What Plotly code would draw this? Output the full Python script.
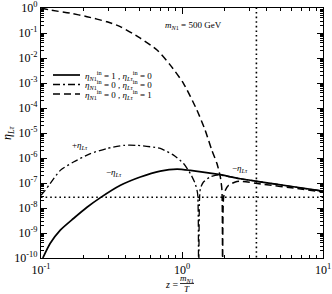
import plotly.graph_objects as go

# ---- data ----
z_solid = [0.103, 0.116, 0.137, 0.170, 0.212, 0.264, 0.366, 0.506, 0.701, 0.923, 1.146, 1.82, 2.2, 2.59, 3.40, 5.86, 10.0]
eta_solid = [1.0e-10, 3.8e-10, 1.3e-9, 3.8e-9, 1.07e-8, 2.6e-8, 8.1e-8, 1.74e-7, 3.0e-7, 3.6e-7, 3.2e-7, 2.2e-7, 1.78e-7, 1.48e-7, 1.17e-7, 7.4e-8, 4.7e-8]

z_dashdot = [0.1, 0.107, 0.116, 0.137, 0.170, 0.224, 0.294, 0.385, 0.480, 0.701, 0.871, 1.026, 1.146, 1.24, 1.29, 1.31,
             1.33, 1.35, 1.42, 1.585, 1.72, 1.82, 2.2, 2.59, 3.40, 5.86, 10.0]
eta_dashdot = [3.2e-8, 5.1e-8, 9.5e-8, 3.2e-7, 6.9e-7, 1.5e-6, 2.4e-6, 3.2e-6, 3.2e-6, 2.4e-6, 1.3e-6, 6.0e-7, 2.4e-7, 9.5e-8, 3.8e-8, 1e-12,
               2.0e-8, 6.0e-8, 1.1e-7, 1.74e-7, 2.0e-7, 2.1e-7, 1.78e-7, 1.48e-7, 1.17e-7, 7.4e-8, 4.7e-8]

z_dashed = [0.1, 0.116, 0.161, 0.212, 0.294, 0.365, 0.506, 0.665, 0.826, 1.026, 1.276, 1.46, 1.63, 1.77, 1.87, 1.92, 1.94,
            1.97, 2.03, 2.14, 2.39, 2.59, 3.79, 6.55, 10.0]
eta_dashed = [1.0, 0.83, 0.62, 0.45, 0.28, 0.18, 0.062, 0.021, 5.2e-3, 9.5e-4, 8.3e-5, 1.29e-5, 2.0e-6, 6.0e-7, 1.74e-7, 5.1e-8, 1e-12,
              2.5e-8, 5.1e-8, 8.1e-8, 1.1e-7, 1.17e-7, 8.9e-8, 6.0e-8, 4.4e-8]

h_level = 2.7e-8      # horizontal dotted reference line
z_vline = 3.37        # vertical dotted reference line

x_range = [0.1, 10.0]
y_range = [1e-10, 1.0]
y_ticks = [10.0 ** (-k) for k in range(0, 11)]
y_ticktext = ["10<sup>%s</sup>" % (-k if k else 0) for k in range(0, 11)]
x_ticks = [0.1, 1.0, 10.0]
x_ticktext = ["10<sup>-1</sup>", "10<sup>0</sup>", "10<sup>1</sup>"]

legend_labels = [
    "<i>η</i><sub><i>N</i>1</sub><sup>in</sup> = 1 , <i>η</i><sub><i>Lτ</i></sub><sup>in</sup> = 0",
    "<i>η</i><sub><i>N</i>1</sub><sup>in</sup> = 0 , <i>η</i><sub><i>Lτ</i></sub><sup>in</sup> = 0",
    "<i>η</i><sub><i>N</i>1</sub><sup>in</sup> = 0 , <i>η</i><sub><i>Lτ</i></sub><sup>in</sup> = 1",
]

FONT = "Liberation Serif, Times New Roman, serif"
BLACK = "#000000"

fig = go.Figure()
fig.add_trace(go.Scatter(x=x_range, y=[h_level, h_level], mode="lines",
                         line=dict(color=BLACK, width=1.6, dash="1.6px,3px"), hoverinfo="skip"))
fig.add_trace(go.Scatter(x=[z_vline, z_vline], y=[1e-12, 10.0], mode="lines",
                         line=dict(color=BLACK, width=1.6, dash="1.6px,3px"), hoverinfo="skip"))
fig.add_trace(go.Scatter(x=z_dashed, y=eta_dashed, mode="lines", line_shape="spline",
                         line=dict(color=BLACK, width=1.5, dash="7px,4px", smoothing=0.6), name="dashed"))
fig.add_trace(go.Scatter(x=z_dashdot, y=eta_dashdot, mode="lines", line_shape="spline",
                         line=dict(color=BLACK, width=1.3, dash="7px,3px,2px,3px", smoothing=0.6), name="dashdot"))
fig.add_trace(go.Scatter(x=z_solid, y=eta_solid, mode="lines", line_shape="spline",
                         line=dict(color=BLACK, width=1.7, smoothing=0.6), name="solid"))

axis_common = dict(showline=True, linecolor=BLACK, linewidth=1.3, mirror="ticks",
                   ticks="inside", ticklen=6, tickwidth=1, tickcolor=BLACK,
                   showgrid=False, zeroline=False, automargin=False,
                   tickfont=dict(family=FONT, size=12, color=BLACK))

fig.update_xaxes(type="log", range=[-1, 1], tickmode="array", tickvals=x_ticks, ticktext=x_ticktext,
                 minor=dict(dtick="D1", ticks="inside", ticklen=3, tickcolor=BLACK, showgrid=False),
                 **axis_common)
fig.update_yaxes(type="log", range=[-10, 0], tickmode="array", tickvals=y_ticks, ticktext=y_ticktext,
                 minor=dict(dtick="D1", ticks="inside", ticklen=3, tickcolor=BLACK, showgrid=False),
                 **axis_common)

L, R, T, B = 41, 9, 8, 36
W, H = 332, 294
pw, ph = W - L - R, H - T - B


def px_to_paper(x, y):
    return (x - L) / pw, (H - B - y) / ph


annotations = []
shapes = []
# legend (manual, compact)
styles = [dict(dash="solid", width=1.7), dict(dash="7px,3px,2px,3px", width=1.3), dict(dash="7px,4px", width=1.5)]
rows_y = [75, 84.5, 94]
for lab, st, ry in zip(legend_labels, styles, rows_y):
    x0, y0 = px_to_paper(53, ry)
    x1, _ = px_to_paper(80, ry)
    shapes.append(dict(type="line", xref="paper", yref="paper", x0=x0, x1=x1, y0=y0, y1=y0,
                       line=dict(color=BLACK, width=st["width"], dash=st["dash"])))
    tx, ty = px_to_paper(83, ry)
    annotations.append(dict(xref="paper", yref="paper", x=tx, y=ty, xanchor="left", yanchor="middle",
                            text=lab, showarrow=False, font=dict(family=FONT, size=9, color=BLACK)))


def note(text, x, y, size=9, anchor="center", angle=0):
    px, py = px_to_paper(x, y)
    annotations.append(dict(xref="paper", yref="paper", x=px, y=py, xanchor=anchor, yanchor="middle",
                            text=text, showarrow=False, textangle=angle,
                            font=dict(family=FONT, size=size, color=BLACK)))


note("<i>m</i><sub><i>N</i>1</sub> = 500 GeV", 193, 26, size=9)
note("+<i>η</i><sub><i>Lτ</i></sub>", 80, 145, size=9)
note("−<i>η</i><sub><i>Lτ</i></sub>", 114, 173, size=9)
note("−<i>η</i><sub><i>Lτ</i></sub>", 240, 168, size=9)
note("<i>η</i><sub><i>Lτ</i></sub>", 8, 133, size=12, angle=-90)
# x-axis title as a fraction
note("<i>z</i> =", 171, 284, size=10)
note("<i>m</i><sub><i>N</i>1</sub>", 187, 278, size=9)
note("<i>T</i>", 187, 289, size=9)
fx0, fy = px_to_paper(180, 283.5)
fx1, _ = px_to_paper(194, 283.5)
shapes.append(dict(type="line", xref="paper", yref="paper", x0=fx0, x1=fx1, y0=fy, y1=fy,
                   line=dict(color=BLACK, width=0.8)))

fig.update_layout(width=W, height=H, margin=dict(l=L, r=R, t=T, b=B),
                  plot_bgcolor="white", paper_bgcolor="white", showlegend=False,
                  font=dict(family=FONT, color=BLACK),
                  annotations=annotations, shapes=shapes)

fig.write_html("out.html", config={"displayModeBar": False},
               post_script="document.body.style.margin='0';")
